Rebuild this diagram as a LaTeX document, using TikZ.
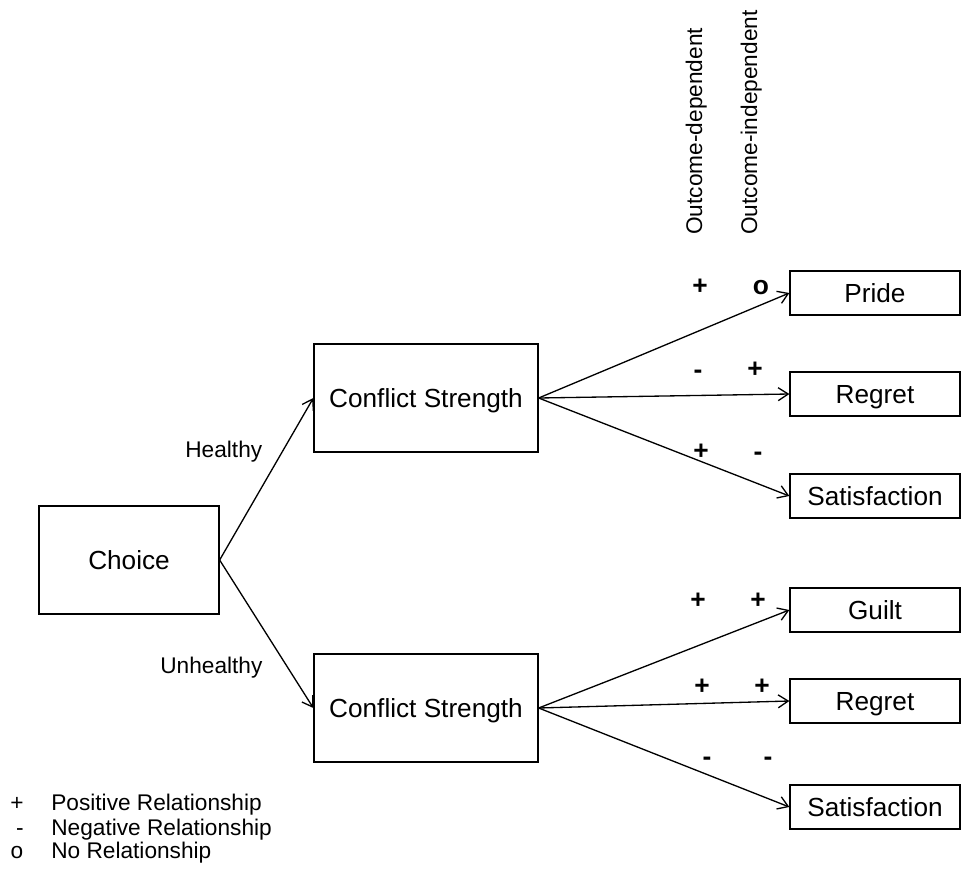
\documentclass[tikz,border=0pt]{standalone}
\usepackage{fontspec}
\setmainfont{Liberation Sans}
\usetikzlibrary{arrows.meta}
\begin{document}
\begin{tikzpicture}[x=0.02cm,y=-0.02cm,
  box/.style={draw,line width=0.75pt,inner sep=0pt,font=\fontsize{14.9}{17}\selectfont,text height=10.7pt,text depth=0pt},
  midbox/.style={box,minimum width=4.48cm,minimum height=2.16cm},
  endbox/.style={box,minimum width=3.4cm,minimum height=0.88cm},
  small/.style={font=\fontsize{12.9}{15}\selectfont,inner sep=0pt,anchor=base west},
  sign/.style={font=\bfseries\fontsize{15}{17}\selectfont,inner sep=0pt,anchor=base},
  keysign/.style={font=\fontsize{12.9}{15}\selectfont,inner sep=0pt,anchor=base},
  link/.style={line width=0.75pt,-{Straight Barb[length=2mm,width=2.6mm]}}]
\useasboundingbox (0,0) rectangle (961,880);
% Boxes
\node[box,minimum width=3.6cm,minimum height=2.16cm] (choice) at (129,560) {Choice};
\node[midbox] (conf1) at (426,398) {Conflict Strength};
\node[midbox] (conf2) at (426,708) {Conflict Strength};
\node[endbox] (pride) at (875,293) {Pride};
\node[endbox] (regret1) at (875,394) {Regret};
\node[endbox] (satis1) at (875,496) {Satisfaction};
\node[endbox] (guilt) at (875,610) {Guilt};
\node[endbox] (regret2) at (875,701) {Regret};
\node[endbox] (satis2) at (875,807) {Satisfaction};
% Arrows
\draw[link] (choice.east) -- (conf1.west);
\draw[link] (choice.east) -- (conf2.west);
\foreach \n in {pride,regret1,satis1} \draw[link] (conf1.east) -- (\n.west);
\foreach \n in {guilt,regret2,satis2} \draw[link] (conf2.east) -- (\n.west);
% Branch labels
\node[small] (healthy) at (185,457) {Healthy};
\node[small] (unhealthy) at (160,673) {Unhealthy};
% Column heads
\node[small,rotate=90] (dep) at (702,235) {Outcome-dependent};
\node[small,rotate=90] (indep) at (757,235) {Outcome-independent};
% Signs
\foreach \x/\y/\s [count=\i] in {700/294/+,761/294/o,698/378/-,755/377/+,701/459/+,758/460/-,
    698/608/+,758/608/+,702/694/+,762/694/+,707/765/-,768/765/-}
  \node[sign] (sign\i) at (\x,\y) {\s};
% Legend
\node[keysign] (keypos) at (17,810) {+};
\node[keysign] (keyneg) at (20,835) {-};
\node[keysign] (keyno) at (17,858) {o};
\node[small] (textpos) at (51,810) {Positive Relationship};
\node[small] (textneg) at (51,835) {Negative Relationship};
\node[small] (textno) at (51,858) {No Relationship};
\end{tikzpicture}
\end{document}
